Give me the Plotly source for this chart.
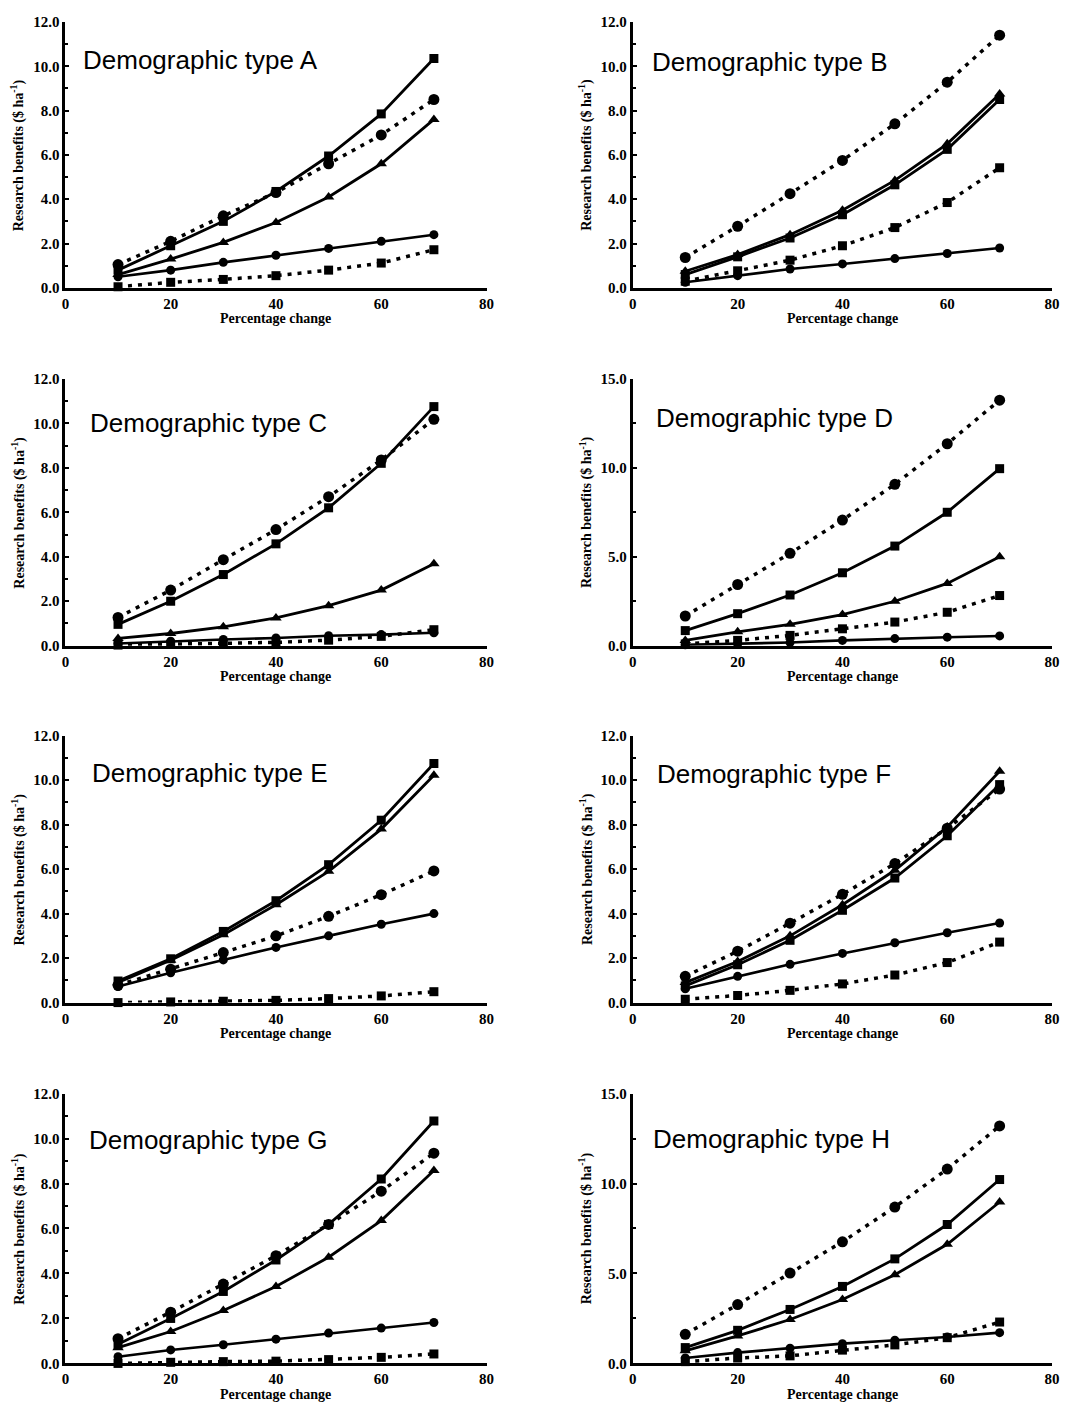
import plotly.graph_objects as go

x_pct = [10, 20, 30, 40, 50, 60, 70]
panel_labels = ["A", "B", "C", "D", "E", "F", "G", "H"]
y_max = [12, 12, 12, 15, 12, 12, 12, 15]
y_dtick = [2, 2, 2, 5, 2, 2, 2, 5]
x_ticks = [0, 20, 40, 60, 80]

# Panel A
A_solid_square = [0.8, 1.9, 3.0, 4.35, 5.95, 7.85, 10.35]
A_solid_triangle = [0.6, 1.3, 2.05, 2.95, 4.1, 5.6, 7.6]
A_solid_circle = [0.5, 0.8, 1.15, 1.47, 1.78, 2.1, 2.4]
A_dotted_circle = [1.05, 2.1, 3.25, 4.3, 5.6, 6.9, 8.5]
A_dotted_square = [0.05, 0.25, 0.38, 0.55, 0.8, 1.12, 1.72]
# Panel B
B_solid_square = [0.6, 1.4, 2.25, 3.3, 4.65, 6.25, 8.5]
B_solid_triangle = [0.75, 1.5, 2.4, 3.5, 4.85, 6.5, 8.75]
B_solid_circle = [0.25, 0.55, 0.85, 1.08, 1.32, 1.55, 1.8]
B_dotted_circle = [1.37, 2.78, 4.25, 5.75, 7.4, 9.28, 11.4]
B_dotted_square = [0.3, 0.77, 1.25, 1.9, 2.72, 3.85, 5.42]
# Panel C
C_solid_square = [0.96, 2.0, 3.2, 4.58, 6.2, 8.2, 10.75]
C_solid_triangle = [0.33, 0.55, 0.85, 1.25, 1.8, 2.5, 3.68]
C_solid_circle = [0.1, 0.2, 0.28, 0.35, 0.45, 0.5, 0.58]
C_dotted_circle = [1.27, 2.5, 3.87, 5.22, 6.7, 8.35, 10.18]
C_dotted_square = [0.03, 0.06, 0.1, 0.15, 0.25, 0.42, 0.72]
# Panel D
D_solid_square = [0.85, 1.8, 2.85, 4.1, 5.6, 7.5, 9.95]
D_solid_triangle = [0.3, 0.78, 1.2, 1.75, 2.5, 3.5, 5.0]
D_solid_circle = [0.05, 0.1, 0.18, 0.3, 0.4, 0.48, 0.55]
D_dotted_circle = [1.67, 3.44, 5.19, 7.06, 9.07, 11.35, 13.8]
D_dotted_square = [0.1, 0.3, 0.58, 0.95, 1.33, 1.88, 2.82]
# Panel E
E_solid_square = [0.97, 1.97, 3.2, 4.58, 6.2, 8.2, 10.75]
E_solid_triangle = [0.9, 1.9, 3.05, 4.4, 5.9, 7.8, 10.22]
E_solid_circle = [0.72, 1.34, 1.92, 2.48, 3.0, 3.52, 4.0]
E_dotted_circle = [0.78, 1.5, 2.25, 3.0, 3.88, 4.85, 5.92]
E_dotted_square = [0.0, 0.03, 0.06, 0.1, 0.18, 0.3, 0.49]
# Panel F
F_solid_square = [0.75, 1.7, 2.8, 4.15, 5.6, 7.5, 9.8]
F_solid_triangle = [0.9, 1.85, 3.0, 4.4, 5.95, 7.9, 10.4]
F_solid_circle = [0.62, 1.18, 1.72, 2.21, 2.69, 3.14, 3.58]
F_dotted_circle = [1.18, 2.31, 3.57, 4.87, 6.25, 7.84, 9.6]
F_dotted_square = [0.15, 0.32, 0.55, 0.84, 1.24, 1.8, 2.72]
# Panel G
G_solid_square = [0.85, 2.0, 3.2, 4.6, 6.18, 8.2, 10.78]
G_solid_triangle = [0.7, 1.42, 2.35, 3.42, 4.72, 6.35, 8.58]
G_solid_circle = [0.3, 0.6, 0.83, 1.08, 1.35, 1.57, 1.82]
G_dotted_circle = [1.1, 2.28, 3.53, 4.79, 6.18, 7.66, 9.35]
G_dotted_square = [0.0, 0.05, 0.08, 0.1, 0.17, 0.27, 0.42]
# Panel H
H_solid_square = [0.88, 1.84, 3.0, 4.28, 5.81, 7.72, 10.22]
H_solid_triangle = [0.7, 1.53, 2.44, 3.55, 4.93, 6.62, 8.97]
H_solid_circle = [0.3, 0.6, 0.85, 1.1, 1.29, 1.47, 1.71]
H_dotted_circle = [1.62, 3.27, 5.02, 6.76, 8.69, 10.8, 13.2]
H_dotted_square = [0.1, 0.3, 0.42, 0.74, 1.03, 1.43, 2.3]

data = {
    "A": (A_solid_square, A_solid_triangle, A_solid_circle, A_dotted_circle, A_dotted_square),
    "B": (B_solid_square, B_solid_triangle, B_solid_circle, B_dotted_circle, B_dotted_square),
    "C": (C_solid_square, C_solid_triangle, C_solid_circle, C_dotted_circle, C_dotted_square),
    "D": (D_solid_square, D_solid_triangle, D_solid_circle, D_dotted_circle, D_dotted_square),
    "E": (E_solid_square, E_solid_triangle, E_solid_circle, E_dotted_circle, E_dotted_square),
    "F": (F_solid_square, F_solid_triangle, F_solid_circle, F_dotted_circle, F_dotted_square),
    "G": (G_solid_square, G_solid_triangle, G_solid_circle, G_dotted_circle, G_dotted_square),
    "H": (H_solid_square, H_solid_triangle, H_solid_circle, H_dotted_circle, H_dotted_square),
}

# page has an 8px body margin; keep the figure inside the 1071x1416 window
OFF = 8
W, H = 1071 - 2 * OFF, 1416 - 2 * OFF
# target pixel boxes of each plot area in the window: (left, right), (top, bottom)
col_px = [(62, 488), (636, 1060)]
row_px = [(14, 283), (375, 645), (736, 1006), (1098, 1371)]
title_pos = [(0.038, 0.855), (0.042, 0.851), (0.054, 0.833), (0.05, 0.855),
             (0.058, 0.859), (0.054, 0.856), (0.052, 0.827), (0.043, 0.831)]

serif = "Liberation Serif"
fig = go.Figure()
annotations = []

styles = [
    # (index, marker symbol, dash, marker size, line width)
    (3, "circle", "4px,6px", 11, 3.5),
    (4, "square", "4px,6px", 9, 3.5),
    (2, "circle", "solid", 9, 2.6),
    (1, "triangle-up", "solid", 10, 2.8),
    (0, "square", "solid", 9, 2.8),
]

for i, lab in enumerate(panel_labels):
    r, c = divmod(i, 2)
    n = i + 1
    xa = "x" if n == 1 else f"x{n}"
    ya = "y" if n == 1 else f"y{n}"
    left, right = [v - OFF for v in col_px[c]]
    top, bot = [v - OFF for v in row_px[r]]
    series = data[lab]
    for idx, sym, dash, ms, lw in styles:
        fig.add_trace(go.Scatter(
            x=x_pct, y=series[idx], xaxis=xa, yaxis=ya,
            mode="lines+markers", cliponaxis=False,
            line=dict(color="black", width=lw, dash=dash),
            marker=dict(symbol=sym, size=ms, color="black"),
            showlegend=False, hoverinfo="skip",
        ))
    tfont = dict(family=serif, size=15, color="black")
    yvals = list(range(0, y_max[i] + 1, y_dtick[i]))
    xkey = "xaxis" if n == 1 else f"xaxis{n}"
    ykey = "yaxis" if n == 1 else f"yaxis{n}"
    fig.update_layout({
        xkey: dict(showline=True, linecolor="black", linewidth=3, showgrid=False, zeroline=False,
                   domain=[left / W, right / W], range=[0, 80], anchor=ya,
                   tickmode="array", tickvals=x_ticks,
                   ticktext=[f"<b>{v}</b>" for v in x_ticks],
                   ticks="", tickfont=tfont),
        ykey: dict(showline=True, linecolor="black", linewidth=3, showgrid=False, zeroline=False,
                   domain=[1 - bot / H, 1 - top / H], range=[0, y_max[i]], anchor=xa,
                   tickmode="array", tickvals=yvals,
                   ticktext=[f"<b>{v:.1f}</b>" for v in yvals],
                   ticks="inside", ticklen=4, tickwidth=2, tickcolor="black", tickfont=tfont,
                   minor=dict(tickmode="linear", tick0=0, dtick=y_dtick[i] / 2, ticks="inside",
                              ticklen=3, tickwidth=2, tickcolor="black")),
    })
    tx, ty = title_pos[i]
    annotations.append(dict(text=f"Demographic type {lab}", xref=f"{xa} domain", yref=f"{ya} domain",
                            x=tx, y=ty, xanchor="left", yanchor="middle", showarrow=False,
                            font=dict(family="Liberation Sans", size=26, color="black")))
    annotations.append(dict(text="<b>Percentage change</b>", xref=f"{xa} domain", yref=f"{ya} domain",
                            x=0.5, y=0, yshift=-31, xanchor="center", yanchor="middle", showarrow=False,
                            font=dict(family=serif, size=14, color="black")))
    annotations.append(dict(text="<b>Research benefits ($ ha<sup>-1</sup>)</b>",
                            xref=f"{xa} domain", yref=f"{ya} domain",
                            x=0, y=0.5, xshift=-47, xanchor="center", yanchor="middle", textangle=-90,
                            showarrow=False,
                            font=dict(family=serif, size=14, color="black")))

fig.update_layout(width=W, height=H, margin=dict(l=0, r=0, t=0, b=0),
                  paper_bgcolor="white", plot_bgcolor="white", showlegend=False,
                  annotations=annotations)
fig.write_html("out.html")
